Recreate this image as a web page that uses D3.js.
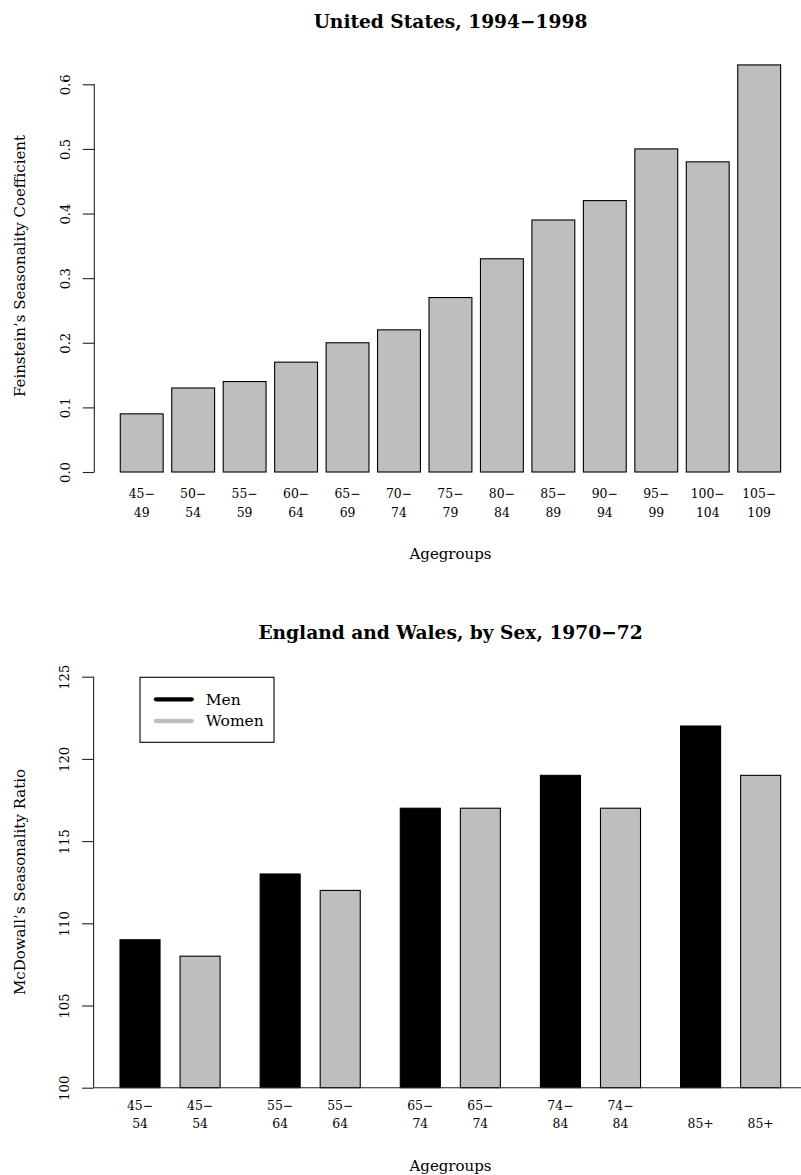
<!DOCTYPE html>
<html>
<head>
<meta charset="utf-8">
<script src="https://cdn.jsdelivr.net/npm/d3@7"></script>
<style>
  html, body { margin: 0; padding: 0; background: #fff; }
  svg { display: block; }
  text { font-family: "DejaVu Serif", serif; fill: #000; }
</style>
</head>
<body>
<div id="chart"></div>
<script>
// ---- Panel 1: United States, Feinstein's seasonality coefficient by age group
const usAgegroups = ["45−\n49", "50−\n54", "55−\n59", "60−\n64", "65−\n69", "70−\n74", "75−\n79",
                     "80−\n84", "85−\n89", "90−\n94", "95−\n99", "100−\n104", "105−\n109"];
const usCoefficient = [0.09, 0.13, 0.14, 0.17, 0.20, 0.22, 0.27, 0.33, 0.39, 0.42, 0.50, 0.48, 0.63];
const usTicks = [0.0, 0.1, 0.2, 0.3, 0.4, 0.5, 0.6];

// ---- Panel 2: England and Wales, McDowall's seasonality ratio by sex
const ewAgegroups = ["45−\n54", "55−\n64", "65−\n74", "74−\n84", "\n85+"];
const ewSexes = ["Men", "Women"];
const ewMen = [109, 113, 117, 119, 122];
const ewWomen = [108, 112, 117, 117, 119];
const ewTicks = [100, 105, 110, 115, 120, 125];

const W = 801, H = 1175;
const svg = d3.select("#chart").append("svg").attr("width", W).attr("height", H);

const GREY = "#bebebe";
const AXIS = "#222";
const tickFont = 13.2, nameFont = 12.4, labFont = 15, titleFont = 18.6;

function yAxis(g, y, ticks, fmt, axisX) {
  const ax = g.append("g").attr("transform", `translate(${axisX},0)`)
    .call(d3.axisLeft(y).tickValues(ticks).tickFormat(fmt).tickSize(11.5).tickPadding(0));
  ax.select(".domain").attr("d", `M0,${y(ticks[0])}V${y(ticks[ticks.length - 1])}`)
    .attr("stroke", AXIS).attr("stroke-width", 1.1);
  ax.selectAll(".tick line").attr("stroke", AXIS).attr("stroke-width", 1.1);
  ax.selectAll(".tick text")
    .attr("x", null).attr("dy", null)
    .attr("text-anchor", "middle")
    .attr("transform", "translate(-24.5,0) rotate(-90)")
    .style("font-family", "DejaVu Serif").style("font-size", tickFont + "px").attr("fill", "#000");
  return ax;
}

function multiLine(g, x, y0, label, lineGap) {
  const t = g.append("text").attr("text-anchor", "middle").style("font-size", nameFont + "px");
  label.split("\n").forEach((s, i) => {
    t.append("tspan").attr("x", x).attr("y", y0 + i * lineGap).text(s);
  });
}

// ================= Panel 1 =================
{
  const g = svg.append("g");
  const x = d3.scaleBand().domain(usAgegroups).range([111.7, 789.2])
    .paddingInner(1 / 6).paddingOuter(1 / 6);
  const y = d3.scaleLinear().domain([0, 0.6]).range([472, 84.3]);

  g.append("text").attr("x", 450.5).attr("y", 28.3).attr("text-anchor", "middle")
    .style("font-size", titleFont + "px").style("font-weight", "bold")
    .text("United States, 1994−1998");

  g.selectAll("rect.bar").data(usCoefficient).join("rect").attr("class", "bar")
    .attr("x", (d, i) => x(usAgegroups[i]))
    .attr("width", x.bandwidth())
    .attr("y", d => y(d))
    .attr("height", d => y(0) - y(d))
    .attr("fill", GREY).attr("stroke", "#000").attr("stroke-width", 1.1);

  yAxis(g, y, usTicks, d3.format(".1f"), 94.3);

  usAgegroups.forEach(a => multiLine(g, x(a) + x.bandwidth() / 2, 497.5, a, 19.5));

  g.append("text").attr("x", 450.5).attr("y", 559.3).attr("text-anchor", "middle")
    .style("font-size", labFont + "px").text("Agegroups");

  g.append("text").attr("text-anchor", "middle")
    .attr("transform", "translate(25,266) rotate(-90)")
    .style("font-size", labFont + "px").text("Feinstein’s Seasonality Coefficient");
}

// ================= Panel 2 =================
{
  const g = svg.append("g");
  const unit = 40.04;
  const x0 = d3.scaleBand().domain(ewAgegroups)
    .range([120 - unit, 120 - unit + 18.5 * unit])
    .paddingInner(1 / 3.5).paddingOuter(1 / 3.5);
  const x1 = d3.scaleBand().domain(ewSexes).range([0, x0.bandwidth()]).paddingInner(1 / 3).paddingOuter(0);
  const y = d3.scaleLinear().domain([100, 125]).range([1087.7, 676.7]);

  g.append("text").attr("x", 450.5).attr("y", 639.3).attr("text-anchor", "middle")
    .style("font-size", titleFont + "px").style("font-weight", "bold")
    .text("England and Wales, by Sex, 1970−72");

  const rows = ewAgegroups.flatMap((a, i) => [
    { age: a, sex: "Men", value: ewMen[i] },
    { age: a, sex: "Women", value: ewWomen[i] }
  ]);
  const fillFor = { Men: "#000", Women: GREY };

  g.selectAll("rect.bar").data(rows).join("rect").attr("class", "bar")
    .attr("x", d => x0(d.age) + x1(d.sex))
    .attr("width", x1.bandwidth())
    .attr("y", d => y(d.value))
    .attr("height", d => y(100) - y(d.value))
    .attr("fill", d => fillFor[d.sex]).attr("stroke", "#000").attr("stroke-width", 1.1);

  // reference line along the base of the bars
  g.append("line").attr("x1", 93.6).attr("x2", 806).attr("y1", y(100)).attr("y2", y(100))
    .attr("stroke", AXIS).attr("stroke-width", 1.1);

  yAxis(g, y, ewTicks, d3.format("d"), 93.6);

  rows.forEach(d => multiLine(g, x0(d.age) + x1(d.sex) + x1.bandwidth() / 2, 1109.5, d.age, 18.5));

  g.append("text").attr("x", 450.5).attr("y", 1170.6).attr("text-anchor", "middle")
    .style("font-size", labFont + "px").text("Agegroups");

  g.append("text").attr("text-anchor", "middle")
    .attr("transform", "translate(25,882) rotate(-90)")
    .style("font-size", labFont + "px").text("McDowall’s Seasonality Ratio");

  // legend
  const lg = g.append("g").attr("transform", "translate(140,677.3)");
  lg.append("rect").attr("width", 134).attr("height", 65)
    .attr("fill", "#fff").attr("stroke", "#000").attr("stroke-width", 1.1);
  ewSexes.forEach((s, i) => {
    const cy = 22 + i * 21.7;
    lg.append("line").attr("x1", 16).attr("x2", 51.7).attr("y1", cy).attr("y2", cy)
      .attr("stroke", fillFor[s]).attr("stroke-width", 4.3).attr("stroke-linecap", "round");
    lg.append("text").attr("x", 65.7).attr("y", cy + 5.5)
      .style("font-size", "15.5px").text(s);
  });
}
</script>
</body>
</html>
